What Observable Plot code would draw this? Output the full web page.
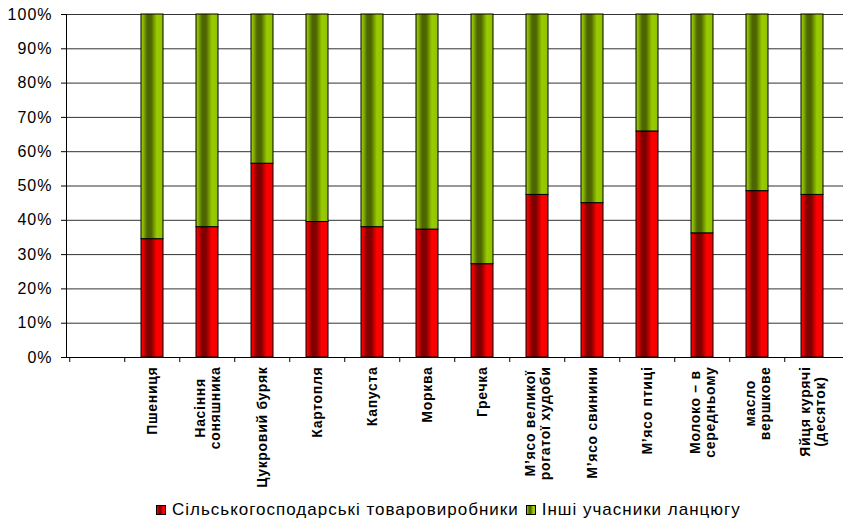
<!DOCTYPE html>
<html>
<head>
<meta charset="utf-8">
<script src="https://cdn.jsdelivr.net/npm/d3@7"></script>
<script src="https://cdn.jsdelivr.net/npm/@observablehq/plot@0.6"></script>
<style>
  body { margin: 0; background: #fff; font-family: "Liberation Sans", Arial, sans-serif; }
  #legend { display: flex; align-items: center; height: 20px; padding-left: 156px; font-size: 17px; letter-spacing: 1px; color: #000; }
  .item { display: flex; align-items: center; margin-right: 7px; }
  .sw { width: 8px; height: 8px; border: 1px solid #000; margin-right: 6px; }
  g[aria-label="y-axis tick label"] { letter-spacing: 1px; }
  g[aria-label="x-axis tick label"] { letter-spacing: 0.7px; }
</style>
</head>
<body>
<svg width="0" height="0" style="position:absolute">
  <defs>
    <linearGradient id="gRed" x1="0" x2="1" y1="0" y2="0">
      <stop offset="0" stop-color="#ff0000"/>
      <stop offset="0.08" stop-color="#f00000"/>
      <stop offset="0.28" stop-color="#800000"/>
      <stop offset="0.46" stop-color="#800000"/>
      <stop offset="0.72" stop-color="#ff0000"/>
      <stop offset="1" stop-color="#f00000"/>
    </linearGradient>
    <linearGradient id="gGreen" x1="0" x2="1" y1="0" y2="0">
      <stop offset="0" stop-color="#99cc00"/>
      <stop offset="0.08" stop-color="#90c000"/>
      <stop offset="0.28" stop-color="#4d6600"/>
      <stop offset="0.46" stop-color="#4d6600"/>
      <stop offset="0.72" stop-color="#99cc00"/>
      <stop offset="1" stop-color="#92c200"/>
    </linearGradient>
  </defs>
</svg>
<div id="chart"></div>
<div id="legend"></div>
<script>
const categories = [
  "Пшениця",
  "Насіння\nсоняшника",
  "Цукровий буряк",
  "Картопля",
  "Капуста",
  "Морква",
  "Гречка",
  "М’ясо великої\nрогатої худоби",
  "М’ясо свинини",
  "М’ясо птиці",
  "Молоко – в\nсередньому",
  "масло\nвершкове",
  "Яйця курячі\n(десяток)"
];
const producers = [34.5, 38.0, 56.5, 39.5, 38.0, 37.3, 27.2, 47.4, 45.0, 65.9, 36.2, 48.5, 47.4];
const others    = [65.5, 62.0, 43.5, 60.5, 62.0, 62.7, 72.8, 52.6, 55.0, 34.1, 63.8, 51.5, 52.6];
const seriesNames = ["Сільськогосподарські товаровиробники", "Інші учасники ланцюгу"];
const yTicks = [0, 10, 20, 30, 40, 50, 60, 70, 80, 90, 100];
const blank = " ";

const rows = categories.map((c, i) => ({label: c, producers: producers[i], others: others[i]}));

const W = 843, H = 500, mL = 66, mR = 0, mT = 14, mB = 143;
const step = (W - mL - mR) / (categories.length + 1);

const plot = Plot.plot({
  width: W, height: H,
  marginLeft: mL, marginRight: mR, marginTop: mT, marginBottom: mB,
  style: {fontFamily: "'Liberation Sans', Arial, sans-serif", background: "#fff", color: "#000", overflow: "visible"},
  x: {domain: [blank, ...categories], paddingInner: 0.6, paddingOuter: 0.3, label: null},
  y: {domain: [0, 100], label: null},
  marks: [
    Plot.gridY(yTicks, {stroke: "#333", strokeOpacity: 1, strokeWidth: 1}),
    Plot.barY(rows, {x: "label", y1: 0, y2: "producers", fill: "url(#gRed)", stroke: "#000", strokeWidth: 1}),
    Plot.barY(rows, {x: "label", y1: "producers", y2: d => d.producers + d.others, fill: "url(#gGreen)", stroke: "#000", strokeWidth: 1}),
    Plot.ruleY([0], {stroke: "#000", strokeWidth: 1}),
    Plot.frame({anchor: "left", stroke: "#000", strokeWidth: 1}),
    Plot.axisY(yTicks, {tickSize: 5, tickPadding: 9, fontSize: 16, tickFormat: d => d + "%", stroke: "#000"}),
    Plot.axisX({tickSize: 5, text: null, dx: -step / 2, stroke: "#000"}),
    Plot.axisX({tickSize: 0, tickRotate: -90, tickPadding: 9, fontSize: 14, fontWeight: "bold", lineHeight: 1.08, tickFormat: d => d})
  ]
});

document.getElementById("chart").appendChild(plot);

// center shorter wrapped lines within each rotated label block
d3.select(plot).selectAll("text").each(function() {
  const spans = Array.from(this.querySelectorAll("tspan"));
  if (spans.length < 2) return;
  const lens = spans.map(s => s.getComputedTextLength());
  const max = d3.max(lens);
  spans.forEach((s, i) => s.setAttribute("x", -(max - lens[i]) / 2));
});

const legend = document.getElementById("legend");
const swatchBg = [
  "linear-gradient(to right, #ff0000 0%, #800000 30%, #800000 45%, #ff0000 75%)",
  "linear-gradient(to right, #99cc00 0%, #4d6600 30%, #4d6600 45%, #99cc00 75%)"
];
seriesNames.forEach((n, i) => {
  const it = document.createElement("div");
  it.className = "item";
  const sw = document.createElement("div");
  sw.className = "sw";
  sw.style.background = swatchBg[i];
  const t = document.createElement("span");
  t.textContent = n;
  it.appendChild(sw); it.appendChild(t);
  legend.appendChild(it);
});
</script>
</body>
</html>
